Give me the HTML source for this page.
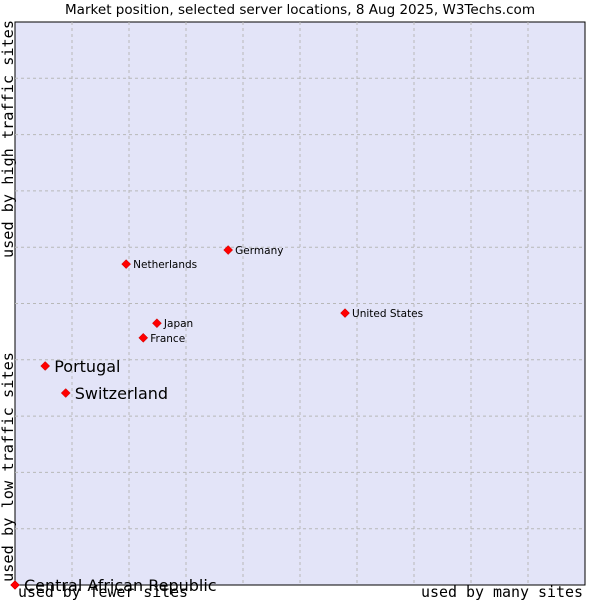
<!DOCTYPE html>
<html><head><meta charset="utf-8"><style>
body{margin:0;background:#fff;width:600px;height:600px;overflow:hidden}
svg{display:block}
</style></head><body>
<svg id="chart" width="600" height="600" xmlns="http://www.w3.org/2000/svg">
<text x="65" y="14" textLength="470" lengthAdjust="spacingAndGlyphs" font-family="DejaVu Sans, sans-serif" font-size="13" fill="#000">Market position, selected server locations, 8 Aug 2025, W3Techs.com</text>
<rect x="15" y="22" width="570" height="563" fill="#e3e4f8" stroke="#000" stroke-width="1"/>
<g id="grid"></g>
<g id="points"></g>
<text transform="translate(13,258) rotate(-90)" textLength="238" lengthAdjust="spacingAndGlyphs" font-family="DejaVu Sans Mono, monospace" font-size="15" fill="#000">used by high traffic sites</text>
<text transform="translate(13,582) rotate(-90)" textLength="230" lengthAdjust="spacingAndGlyphs" font-family="DejaVu Sans Mono, monospace" font-size="15" fill="#000">used by low traffic sites</text>
<text x="18" y="597" textLength="170" lengthAdjust="spacingAndGlyphs" font-family="DejaVu Sans Mono, monospace" font-size="15" fill="#000">used by fewer sites</text>
<text x="421" y="597" textLength="162" lengthAdjust="spacingAndGlyphs" font-family="DejaVu Sans Mono, monospace" font-size="15" fill="#000">used by many sites</text>
</svg>
<script>
const names=["Central African Republic","Portugal","Switzerland","France","Japan","Netherlands","Germany","United States"];
const xValues=[0,5.3,8.9,22.5,24.9,19.5,37.4,57.9];
const yValues=[0,38.9,34.1,43.9,46.5,57.0,59.5,48.3];
const largeLabel=[true,true,true,false,false,false,false,false];
const L=15,T=22,W=570,H=563;
const sx=v=>L+v/100*W, sy=v=>T+H-v/100*H;
const NS="http://www.w3.org/2000/svg";
const grid=document.getElementById('grid');
for(let i=1;i<10;i++){
  const gx=document.createElementNS(NS,'line');
  
  
  gx.setAttribute('x1',sx(i*10));gx.setAttribute('x2',sx(i*10));gx.setAttribute('y1',T);gx.setAttribute('y2',T+H);
  gx.setAttribute('stroke','#b8b8b8');gx.setAttribute('stroke-dasharray','3,3');
  grid.appendChild(gx);
  const gy=document.createElementNS(NS,'line');
  
  
  gy.setAttribute('y1',sy(i*10));gy.setAttribute('y2',sy(i*10));gy.setAttribute('x1',L);gy.setAttribute('x2',L+W);
  gy.setAttribute('stroke','#b8b8b8');gy.setAttribute('stroke-dasharray','3,3');
  grid.appendChild(gy);
}
const pts=document.getElementById('points');
names.forEach((n,i)=>{
  const x=sx(xValues[i]),y=sy(yValues[i]);
  const d=document.createElementNS(NS,'path');
  
  
  d.setAttribute('d',`M${x} ${y-4.5}L${x+4.5} ${y}L${x} ${y+4.5}L${x-4.5} ${y}Z`);
  d.setAttribute('fill','#f00');d.setAttribute('stroke','#b00');d.setAttribute('stroke-width','0.5');
  pts.appendChild(d);
  const t=document.createElementNS(NS,'text');
  
  
  const big=largeLabel[i];
  t.setAttribute('x',x+(big?9:7));t.setAttribute('y',y+(big?6:4));
  t.setAttribute('font-family','DejaVu Sans, sans-serif');
  t.setAttribute('font-size',big?'16':'10.5');
  t.setAttribute('fill','#000');
  t.textContent=n;
  pts.appendChild(t);
});
</script>
</body></html>
